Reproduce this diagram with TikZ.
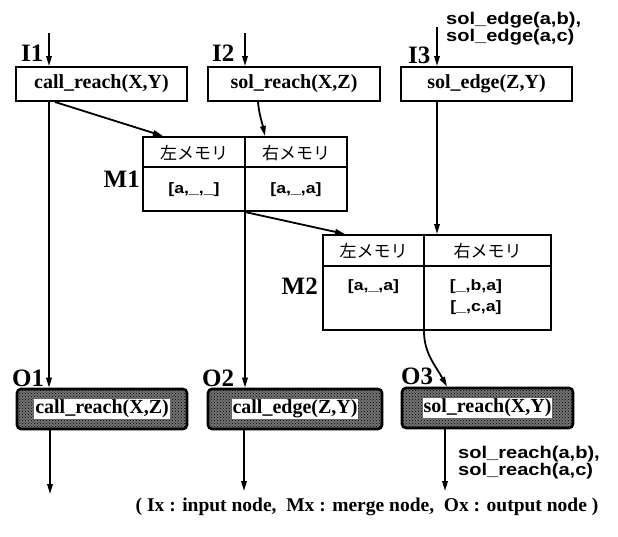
\documentclass[tikz,border=0pt]{standalone}
\usepackage{fontspec}
\setmainfont{Liberation Serif}
\newfontfamily\sansb[FakeStretch=1.18]{Liberation Sans}
\newfontfamily\jpfont{Noto Sans CJK JP}
\usetikzlibrary{arrows.meta,patterns}
\begin{document}
\begin{tikzpicture}[x=1pt,y=-1pt,
  ibox/.style={draw, line width=2pt, minimum height=34pt, inner sep=0pt,
    font=\fontsize{20}{23}\selectfont\bfseries},
  obox/.style={draw, line width=2.6pt, rounded corners=4pt, minimum height=40pt, inner sep=0pt,
    preaction={fill=black!55}, pattern=crosshatch dots, pattern color=black},
  otext/.style={fill=white, inner sep=0.8pt, font=\fontsize{20}{23}\selectfont\bfseries},
  lbl/.style={inner sep=0pt, font=\fontsize{25}{28}\selectfont\bfseries},
  frame/.style={draw, line width=2pt, inner sep=0pt},
  divline/.style={line width=2pt},
  jp/.style={inner sep=0pt, font=\jpfont\fontsize{17}{19}\selectfont},
  mem/.style={inner sep=0pt, align=center, font=\sansb\bfseries\fontsize{15}{21}\selectfont},
  sans/.style={inner sep=0pt, align=left, font=\sansb\bfseries\fontsize{17}{15}\selectfont},
  arr/.style={line width=1.8pt, -{Triangle[length=10pt,width=5.5pt]}},
]
\useasboundingbox (0,0) rectangle (618,536);

% input nodes
\node[ibox, minimum width=171pt] (I1) at (101.5,84) {call\_reach(X,Y)};
\node[ibox, minimum width=172pt] (I2) at (294,84) {sol\_reach(X,Z)};
\node[ibox, minimum width=171pt] (I3) at (486.5,84) {sol\_edge(Z,Y)};
\node[lbl, anchor=base west] (I1l) at (21,61) {I1};
\node[lbl, anchor=base west] (I2l) at (212,61) {I2};
\node[lbl, anchor=base west] (I3l) at (408,63) {I3};

\coordinate (in1) at (49,33);
\coordinate (in2) at (245,33);
\coordinate (in3) at (437,27);
\draw[arr] (in1) -- (in1 |- I1.north);
\draw[arr] (in2) -- (in2 |- I2.north);
\draw[arr] (in3) -- (in3 |- I3.north);
\node[sans, anchor=north west] (in3t) at (446,12) {sol\_edge(a,b),\\ {sol\_edge(a,c)}};

% merge node M1
\node[frame, minimum width=204pt, minimum height=74pt] (M1) at (245,174) {};
\draw[divline] (M1.north) -- (M1.south);
\draw[divline] ([yshift=-31pt]M1.north west) -- ([yshift=-31pt]M1.north east);
\node[lbl, anchor=base east] (M1l) at (140,187) {M1};
\node[jp] (M1lh) at (194,153) {左メモリ};
\node[jp] (M1rh) at (296,153) {右メモリ};
\node[mem] (M1lb) at (194,190) {{[a,\_,\_]}};
\node[mem] (M1rb) at (296,190) {{[a,\_,a]}};

% merge node M2
\node[frame, minimum width=228pt, minimum height=95pt] (M2) at (437,282.5) {};
\draw[divline] (M2.north -| 424,0) -- (M2.south -| 424,0);
\draw[divline] ([yshift=-32pt]M2.north west) -- ([yshift=-32pt]M2.north east);
\node[lbl, anchor=base east] (M2l) at (318,294) {M2};
\node[jp] (M2lh) at (373.5,251) {左メモリ};
\node[jp] (M2rh) at (487.5,251) {右メモリ};
\node[mem, anchor=north] (M2lb) at (373.5,279) {{[a,\_,a]}};
\node[mem, anchor=north] (M2rb) at (476,279) {{[\_,b,a]}\\ {[\_,c,a]}};

% output nodes
\node[obox, minimum width=170pt] (O1) at (102,409) {};
\node[otext] (O1t) at (O1) {call\_reach(X,Z)};
\node[obox, minimum width=174pt] (O2) at (295,409) {};
\node[otext] (O2t) at (O2) {call\_edge(Z,Y)};
\node[obox, minimum width=171pt] (O3) at (487.5,408) {};
\node[otext] (O3t) at (O3) {sol\_reach(X,Y)};
\node[lbl, anchor=base west] (O1l) at (12,386) {O1};
\node[lbl, anchor=base west] (O2l) at (202,386) {O2};
\node[lbl, anchor=base west] (O3l) at (401,384) {O3};

% connectors
\draw[arr] (I1.south -| in1) -- (O1.north -| in1);
\draw[arr] ([xshift=-46.5pt]I1.south) -- ([xshift=-82pt]M1.north);
\draw[arr] ([xshift=-36pt]I2.south) .. controls +(1,12) and +(-3,-14) .. ([xshift=20pt]M1.north);
\draw[arr] (M1.south) -- (M1.south |- O2.north);
\draw[arr] (M1.south) -- ([xshift=-92pt]M2.north);
\draw[arr] (in3 |- I3.south) -- (in3 |- M2.north);
\draw[arr] (M2.south -| 424,0) .. controls +(0,22) and +(-12,-22) .. ([xshift=-40.5pt]O3.north);

\coordinate (out1) at (50,494);
\coordinate (out2) at (244,491);
\coordinate (out3) at (445,491);
\draw[arr] (O1.south -| out1) -- (out1);
\draw[arr] (O2.south -| out2) -- (out2);
\draw[arr] (O3.south -| out3) -- (out3);
\node[sans, anchor=north west] (out3t) at (458,446) {sol\_reach(a,b),\\ {sol\_reach(a,c)}};

\node[inner sep=0pt, font=\fontsize{19.5}{22}\selectfont\bfseries] (cap) at (367,507)
  {( Ix : input node,\ \ Mx : merge node,\ \ Ox : output node )};
\end{tikzpicture}
\end{document}
